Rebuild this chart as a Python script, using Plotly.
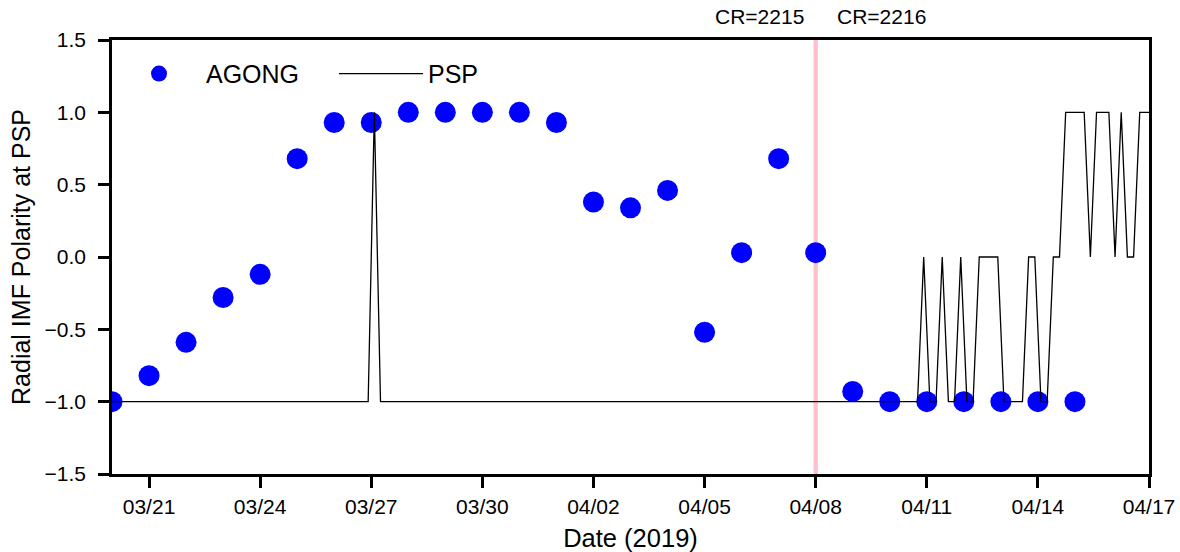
import plotly.graph_objects as go
import pandas as pd

# AGONG daily polarity estimates
agong_dates = pd.date_range("2019-03-20", "2019-04-15", freq="D")
agong_values = [
    -1.00, -0.82, -0.59, -0.28, -0.12, 0.68, 0.93, 0.93, 1.00, 1.00,
    1.00, 1.00, 0.93, 0.38, 0.34, 0.46, -0.52, 0.03, 0.68, 0.03,
    -0.93, -1.00, -1.00, -1.00, -1.00, -1.00, -1.00,
]

# PSP measured polarity, 4-hour samples starting 2019-03-19 22:00
psp_start = "2019-03-19 22:00"
psp_values = [
    -1,
    -1, -1, -1, -1, -1, -1,   # 03/20
    -1, -1, -1, -1, -1, -1,   # 03/21
    -1, -1, -1, -1, -1, -1,   # 03/22
    -1, -1, -1, -1, -1, -1,   # 03/23
    -1, -1, -1, -1, -1, -1,   # 03/24
    -1, -1, -1, -1, -1, -1,   # 03/25
    -1, -1, -1, -1, -1, -1,   # 03/26
    1, -1, -1, -1, -1, -1,    # 03/27
    -1, -1, -1, -1, -1, -1,   # 03/28
    -1, -1, -1, -1, -1, -1,   # 03/29
    -1, -1, -1, -1, -1, -1,   # 03/30
    -1, -1, -1, -1, -1, -1,   # 03/31
    -1, -1, -1, -1, -1, -1,   # 04/01
    -1, -1, -1, -1, -1, -1,   # 04/02
    -1, -1, -1, -1, -1, -1,   # 04/03
    -1, -1, -1, -1, -1, -1,   # 04/04
    -1, -1, -1, -1, -1, -1,   # 04/05
    -1, -1, -1, -1, -1, -1,   # 04/06
    -1, -1, -1, -1, -1, -1,   # 04/07
    -1, -1, -1, -1, -1, -1,   # 04/08
    -1, -1, -1, -1, -1, -1,   # 04/09
    -1, -1, -1, -1, -1, 0,    # 04/10
    -1, -1, 0, -1, -1, 0,     # 04/11
    -1, -1, 0, 0, 0, 0,       # 04/12
    -1, -1, -1, -1, 0, 0,     # 04/13
    -1, -1, 0, 0, 1, 1,       # 04/14
    1, 1, 0, 1, 1, 1,         # 04/15
    0, 1, 0, 0, 1, 1,         # 04/16
    1,                        # 04/17
]
psp_times = pd.date_range(psp_start, periods=len(psp_values), freq="4h")

# Carrington rotation boundary
cr_boundary = "2019-04-08"
cr_labels = ["CR=2215", "CR=2216"]

x_tick_dates = ["2019-03-21", "2019-03-24", "2019-03-27", "2019-03-30",
                "2019-04-02", "2019-04-05", "2019-04-08", "2019-04-11",
                "2019-04-14", "2019-04-17"]
y_tick_values = [-1.5, -1.0, -0.5, 0.0, 0.5, 1.0, 1.5]

FONT = "Liberation Sans, Arial, sans-serif"

fig = go.Figure()
fig.add_trace(go.Scatter(
    x=agong_dates, y=agong_values, mode="markers", name="AGONG",
    marker=dict(color="#0000ff", size=21, line=dict(width=0)),
))
fig.add_trace(go.Scatter(
    x=psp_times, y=psp_values, mode="lines", name="PSP",
    line=dict(color="black", width=1.3),
))

fig.add_shape(type="line", xref="x", yref="paper",
              x0=cr_boundary, x1=cr_boundary, y0=0, y1=1,
              line=dict(color="pink", width=4.3), layer="below")

fig.add_annotation(x=cr_boundary, y=1, xref="x", yref="paper",
                   text=cr_labels[0], showarrow=False, xanchor="right",
                   yanchor="bottom", xshift=-10, yshift=10,
                   font=dict(size=21, color="black", family=FONT))
fig.add_annotation(x=cr_boundary, y=1, xref="x", yref="paper",
                   text=cr_labels[1], showarrow=False, xanchor="left",
                   yanchor="bottom", xshift=19, yshift=10,
                   font=dict(size=21, color="black", family=FONT))

axis_common = dict(
    showline=True, linecolor="black", linewidth=2.5, mirror=True,
    ticks="outside", ticklen=11, tickwidth=2.5, tickcolor="black",
    showgrid=False, zeroline=False, automargin=False,
    tickfont=dict(size=21, color="black", family=FONT),
)

fig.update_xaxes(
    **axis_common,
    range=["2019-03-20", "2019-04-17"],
    tickvals=x_tick_dates, tickformat="%m/%d",
    title=dict(text="Date (2019)", font=dict(size=25.5, color="black", family=FONT),
               standoff=14),
    ticklabelstandoff=1,
)
fig.update_yaxes(
    **axis_common,
    range=[-1.5, 1.5],
    tickvals=y_tick_values, tickformat=".1f",
    title=dict(text="Radial IMF Polarity at PSP",
               font=dict(size=25, color="black", family=FONT), standoff=7),
    ticklabelstandoff=8,
)

fig.update_layout(
    width=1180, height=552,
    margin=dict(l=112, r=31, t=40, b=78),
    paper_bgcolor="white", plot_bgcolor="white",
    font=dict(family=FONT, color="black"),
    showlegend=True,
    legend=dict(
        orientation="h", x=0.0, y=0.975, xanchor="left", yanchor="top",
        bgcolor="rgba(0,0,0,0)", itemwidth=84,
        entrywidth=123, entrywidthmode="pixels",
        font=dict(size=25, color="black", family=FONT),
    ),
)

fig.write_html("out.html")
